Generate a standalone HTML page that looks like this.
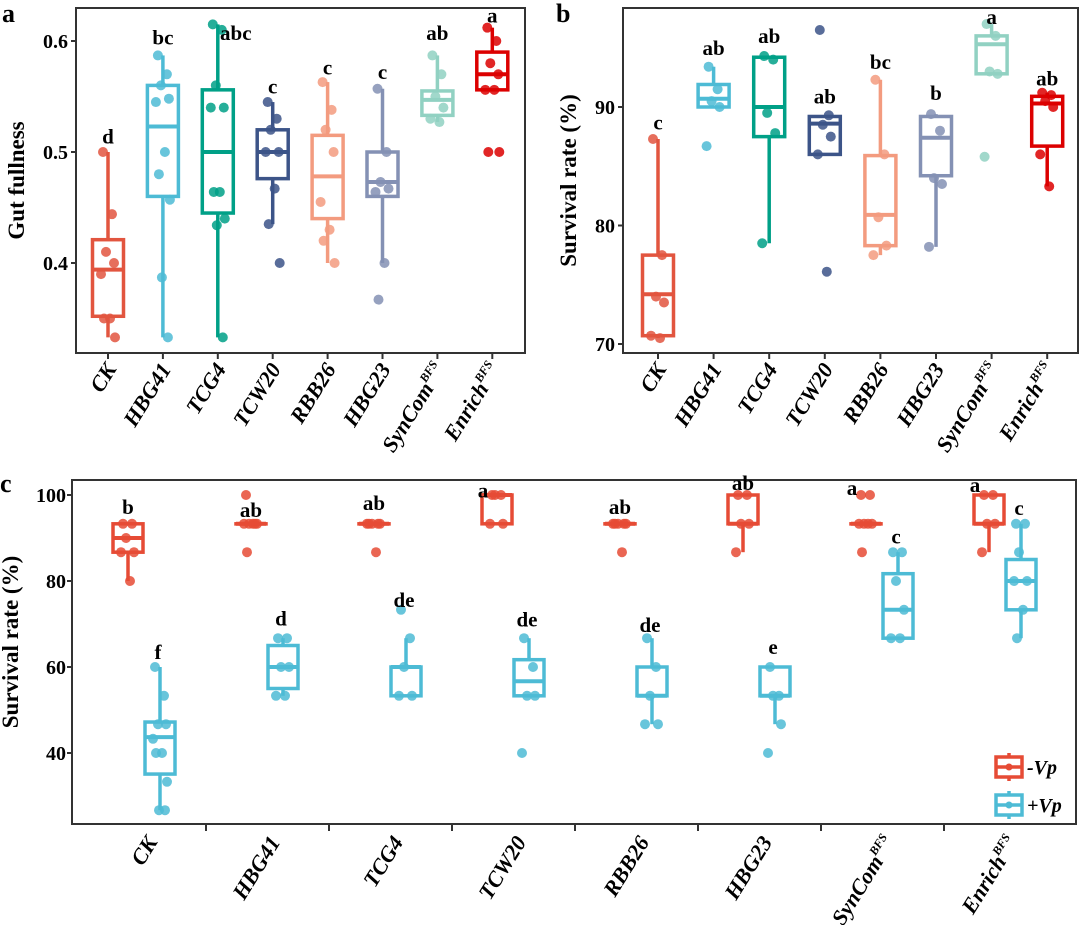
<!DOCTYPE html>
<html><head><meta charset="utf-8">
<style>
body{margin:0;background:#fff;}
svg{display:block;font-family:"Liberation Serif",serif;font-weight:bold;}
</style></head>
<body>
<svg id="fig" width="1080" height="925" viewBox="0 0 1080 925"></svg>
<script>
// ---------- shared ----------
const categories = ["CK","HBG41","TCG4","TCW20","RBB26","HBG23","SynCom","Enrich"];
const colorsAB = ["#e2553f","#4dbbd5","#00a087","#3c5488","#f39b7f","#8491b4","#91d1c2","#dc0000"];

// ---------- panel a: gut fullness ----------
const aQ1  = [0.352,0.460,0.445,0.476,0.440,0.460,0.533,0.556];
const aMed = [0.394,0.523,0.500,0.500,0.478,0.473,0.547,0.570];
const aQ3  = [0.421,0.560,0.556,0.520,0.515,0.500,0.555,0.590];
const aLo  = [0.333,0.333,0.333,0.435,0.400,0.400,0.527,0.556];
const aHi  = [0.500,0.587,0.615,0.545,0.563,0.557,0.587,0.612];
const aPts = [
 [0.5,0.444,0.41,0.4,0.39,0.35,0.35,0.333],
 [0.587,0.57,0.56,0.548,0.545,0.5,0.48,0.457,0.387,0.333],
 [0.615,0.61,0.56,0.54,0.54,0.464,0.464,0.44,0.434,0.333],
 [0.545,0.53,0.52,0.5,0.5,0.467,0.435,0.4],
 [0.563,0.538,0.52,0.5,0.455,0.43,0.42,0.4],
 [0.557,0.5,0.473,0.467,0.464,0.4,0.367],
 [0.587,0.57,0.55,0.54,0.53,0.527],
 [0.612,0.6,0.58,0.57,0.556,0.556,0.5,0.5]];
const aLetters = ["d","bc","abc","c","c","c","ab","a"];
const aLetterVal = [0.514,0.603,0.607,0.559,0.576,0.572,0.607,0.623];
const aTicks = [0.4,0.5,0.6];

// ---------- panel b: survival ----------
const bQ1  = [70.7,90.0,87.5,86.0,78.3,84.2,92.8,86.7];
const bMed = [74.2,90.7,90.0,88.6,80.9,87.4,95.3,90.3];
const bQ3  = [77.5,91.9,94.2,89.2,85.9,89.2,96.0,90.9];
const bLo  = [70.5,90.0,78.5,86.0,77.5,78.2,92.8,83.3];
const bHi  = [87.3,93.4,94.3,89.2,92.3,89.4,97.0,91.2];
const bPts = [
 [87.3,77.5,74,73.5,70.7,70.5],
 [93.4,91.5,90.5,90,86.7],
 [94.3,94,89.5,87.8,78.5],
 [96.5,89.3,88.5,87.5,86,76.1],
 [92.3,86,80.7,78.3,77.5],
 [89.4,88,84,83.5,78.2],
 [97,96,93,92.8,85.8],
 [91.2,91,90.5,90,86,83.3]];
const bLetters = ["c","ab","ab","ab","bc","b","a","ab"];
const bLetterVal = [88.7,95.0,96.0,90.9,93.8,91.2,97.6,92.4];
const bTicks = [70,80,90];

// ---------- panel c: survival -Vp / +Vp ----------
const cMinusQ1  = [86.7,93.3,93.3,93.3,93.3,93.3,93.3,93.3];
const cMinusMed = [90.0,93.3,93.3,100,93.3,93.3,93.3,93.3];
const cMinusQ3  = [93.3,93.3,93.3,100,93.3,100,93.3,100];
const cMinusLo  = [80.0,93.3,93.3,93.3,93.3,86.7,93.3,86.7];
const cMinusHi  = [93.3,93.3,93.3,100,93.3,100,93.3,100];
const cMinusPts = [
 [93.3,93.3,90,86.7,86.7,80],
 [100,93.3,93.3,93.3,93.3,93.3,86.7],
 [93.3,93.3,93.3,93.3,93.3,86.7],
 [100,100,100,93.3,93.3],
 [93.3,93.3,93.3,93.3,93.3,86.7],
 [100,100,93.3,93.3,86.7],
 [100,100,93.3,93.3,93.3,93.3,86.7],
 [100,100,93.3,93.3,86.7]];
const cPlusQ1  = [35.1,55.0,53.3,53.3,53.3,53.3,66.7,73.3];
const cPlusMed = [43.7,60.0,60.0,56.7,53.3,53.3,73.3,80.0];
const cPlusQ3  = [47.2,65.0,60.0,61.7,60.0,60.0,81.7,85.0];
const cPlusLo  = [26.7,53.3,53.3,53.3,46.7,46.7,66.7,66.7];
const cPlusHi  = [60.0,66.7,66.7,66.7,66.7,60.0,86.7,93.3];
const cPlusPts = [
 [60,53.3,46.7,46.7,43.3,40,40,33.3,26.7,26.7],
 [66.7,66.7,60,60,53.3,53.3],
 [73.3,66.7,60,53.3,53.3],
 [66.7,60,53.3,53.3,40],
 [66.7,60,53.3,46.7,46.7],
 [60,53.3,53.3,46.7,40],
 [86.7,86.7,80,73.3,66.7,66.7],
 [93.3,93.3,86.7,80,80,73.3,66.7]];
const cMinusLetters = ["b","ab","ab","a","ab","ab","a","a"];
const cMinusLetterVal = [97.2,96.5,98.1,101.0,97.2,102.8,101.6,102.3];
const cPlusLetters = ["f","d","de","de","de","e","c","c"];
const cPlusLetterVal = [63.5,71.3,75.6,71.0,69.8,64.7,90.3,97.0];
const cTicks = [40,60,80,100];

const NS = "http://www.w3.org/2000/svg";
const svg = document.getElementById("fig");
function mk(tag, attrs, parent){
  const e = document.createElementNS(NS, tag);
  for (const k in attrs) e.setAttribute(k, attrs[k]);
  (parent||svg).appendChild(e);
  return e;
}
const jitter = [-5,4,-2,6,-7,2,-4,7,-1,5];

function drawBox(g, x, w, q1, med, q3, lo, hi, pts, col, yf, name){
  const grp = mk("g", {}, g);
  
  
  pts.forEach((v,i)=>{
    const c = mk("circle", {cx: x + jitter[i%jitter.length], cy: yf(v), r: 5, fill: col, "fill-opacity": 0.85}, grp);
    
    
  });
  const wl = mk("line", {x1:x, x2:x, y1:yf(hi), y2:yf(q3), stroke:col, "stroke-width":3.5}, grp);
  
  
  const wl2 = mk("line", {x1:x, x2:x, y1:yf(q1), y2:yf(lo), stroke:col, "stroke-width":3.5}, grp);
  
  
  const r = mk("rect", {x:x-w/2, y:yf(q3), width:w, height:Math.max(0.1,yf(q1)-yf(q3)), fill:"none", stroke:col, "stroke-width":3.5}, grp);
  
  
  const m = mk("line", {x1:x-w/2, x2:x+w/2, y1:yf(med), y2:yf(med), stroke:col, "stroke-width":4}, grp);
  
  
}

function xLabel(g, x, y, name, fs){
  const t = mk("text", {x:x, y:y, "text-anchor":"end", "font-size":fs, "font-style":"italic", transform:`rotate(-58 ${x} ${y})`}, g);
  
  
  if (name==="SynCom" || name==="Enrich"){
    t.appendChild(document.createTextNode(name));
    const s = mk("tspan", {"font-size": fs*0.55, dy: -fs*0.45}, t);
    s.textContent = "BFS";
  } else t.textContent = name;
}

function panelAB(opts){
  const g = mk("g", {});
  
  
  const {L,R,T,B,v0,y0,v1,y1,x0,dx} = opts;
  const yf = v => y0 + (v - v0) * (y1 - y0) / (v1 - v0);
  const xf = i => x0 + i*dx;
  const fr = mk("rect", {x:L, y:T, width:R-L, height:B-T, fill:"none", stroke:"#333", "stroke-width":2}, g);
  
  
  opts.ticks.forEach(t=>{
    mk("line", {x1:L-5, x2:L, y1:yf(t), y2:yf(t), stroke:"#333", "stroke-width":2}, g);
    const tl = mk("text", {x:L-8, y:yf(t)+7, "text-anchor":"end", "font-size":20}, g);
    
    
    tl.textContent = opts.fmt(t);
  });
  categories.forEach((c,i)=>{
    mk("line", {x1:xf(i), x2:xf(i), y1:B, y2:B+6, stroke:"#333", "stroke-width":2}, g);
    drawBox(g, xf(i), 31, opts.q1[i], opts.med[i], opts.q3[i], opts.lo[i], opts.hi[i], opts.pts[i], colorsAB[i], yf, 'box-' + c.toLowerCase());
    const lt = mk("text", {x:xf(i) + (opts.letters[i]==="abc"?18:0), y:yf(opts.letterVal[i])+7, "text-anchor":"middle", "font-size":21}, g);
    
    
    lt.textContent = opts.letters[i];
    xLabel(g, xf(i)+9, B+16, c, 22);
  });
  const yt = mk("text", {x:0, y:0, "text-anchor":"middle", "font-size":23, transform:`translate(${opts.titleX} ${(T+B)/2}) rotate(-90)`}, g);
  
  
  yt.textContent = opts.title;
  const pl = mk("text", {x:opts.labelX, y:22, "font-size":26}, g);
  
  
  pl.textContent = opts.label;
}

panelAB({name:"panel-a-gut-fullness", L:76, R:525, T:8, B:353, v0:0.4, y0:263, v1:0.6, y1:41, x0:108, dx:54.9,
  ticks:aTicks, fmt:t=>t.toFixed(1), q1:aQ1, med:aMed, q3:aQ3, lo:aLo, hi:aHi, pts:aPts,
  letters:aLetters, letterVal:aLetterVal, title:"Gut fullness", titleX:24, label:"a", labelX:2});
panelAB({name:"panel-b-survival", L:623, R:1078, T:8, B:353, v0:70, y0:344, v1:90, y1:107, x0:658, dx:55.6,
  ticks:bTicks, fmt:t=>String(t), q1:bQ1, med:bMed, q3:bQ3, lo:bLo, hi:bHi, pts:bPts,
  letters:bLetters, letterVal:bLetterVal, title:"Survival rate (%)", titleX:576, label:"b", labelX:556});

// ---------- panel c ----------
(function(){
  const g = mk("g", {});
  
  
  const L=72,R=1076,T=480,B=824;
  const yf = v => 495 + (100 - v) * 4.3;
  const xc = i => 144 + i*123;
  const fr = mk("rect", {x:L, y:T, width:R-L, height:B-T, fill:"none", stroke:"#333", "stroke-width":2}, g);
  
  
  cTicks.forEach(t=>{
    mk("line", {x1:L-5, x2:L, y1:yf(t), y2:yf(t), stroke:"#333", "stroke-width":2}, g);
    const tl = mk("text", {x:L-6, y:yf(t)+7, "text-anchor":"end", "font-size":20}, g);
    
    
    tl.textContent = t;
  });
  const red="#e64b35", blue="#4dbbd5";
  categories.forEach((c,i)=>{
    if (i<7) mk("line", {x1:xc(i)+62, x2:xc(i)+62, y1:B, y2:B+7, stroke:"#333", "stroke-width":2}, g);
    drawBox(g, xc(i)-16, 30, cMinusQ1[i], cMinusMed[i], cMinusQ3[i], cMinusLo[i], cMinusHi[i], cMinusPts[i], red, yf, 'box-minus-vp-' + c.toLowerCase());
    drawBox(g, xc(i)+16, 30, cPlusQ1[i], cPlusMed[i], cPlusQ3[i], cPlusLo[i], cPlusHi[i], cPlusPts[i], blue, yf, 'box-plus-vp-' + c.toLowerCase());
    const l1 = mk("text", {x:xc(i)-16 + (cMinusLetters[i]==="a"?-14:0), y:yf(cMinusLetterVal[i])+7, "text-anchor":"middle", "font-size":21}, g);
    
    
    l1.textContent = cMinusLetters[i];
    const l2 = mk("text", {x:xc(i)+14, y:yf(cPlusLetterVal[i])+7, "text-anchor":"middle", "font-size":21}, g);
    
    
    l2.textContent = cPlusLetters[i];
    xLabel(g, xc(i)+14, 842, c, 22);
  });
  const yt = mk("text", {x:0, y:0, "text-anchor":"middle", "font-size":23, transform:`translate(18 ${(T+B)/2-10}) rotate(-90)`}, g);
  
  
  yt.textContent = "Survival rate (%)";
  const pl = mk("text", {x:0, y:492, "font-size":26}, g);
  
  
  pl.textContent = "c";
  // legend
  const lg = mk("g", {}, g);
  
  
  [["-Vp",red,767],["+Vp",blue,805]].forEach(([lab,col,y])=>{
    const e = mk("g", {}, lg);
    
    
    mk("line", {x1:1009, x2:1009, y1:y-14, y2:y+14, stroke:col, "stroke-width":3.5}, e);
    mk("rect", {x:996, y:y-10, width:26, height:20, fill:"#fff", stroke:col, "stroke-width":3.5}, e);
    mk("line", {x1:996, x2:1022, y1:y, y2:y, stroke:col, "stroke-width":3.5}, e);
    mk("circle", {cx:1009, cy:y, r:3.5, fill:col}, e);
    const t = mk("text", {x:1027, y:y+7, "font-size":20, "font-style":"italic"}, e);
    t.textContent = lab;
  });
})();
</script>
</body></html>
